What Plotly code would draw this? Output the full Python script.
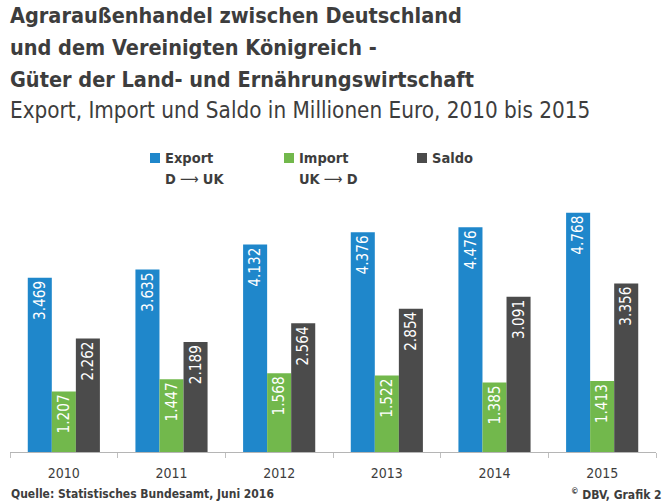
import plotly.graph_objects as go

years = ["2010", "2011", "2012", "2013", "2014", "2015"]
export_vals = [3469, 3635, 4132, 4376, 4476, 4768]
import_vals = [1207, 1447, 1568, 1522, 1385, 1413]
saldo_vals = [2262, 2189, 2564, 2854, 3091, 3356]

series_names = ["Export", "Import", "Saldo"]
series_sub = [("D", "UK"), ("UK", "D"), None]
colors = ["#1f87cb", "#72b84c", "#4b4b4b"]

W, H = 668, 501
# plot area in page pixels: x 10..656, y 201..452
PL, PR, PT, PB = 10, 656, 201, 452
FONT = "DejaVu Sans Condensed"
TXT = "#3d3d3d"


def fmt(v):
    return f"{v:,}".replace(",", ".")


fig = go.Figure()
for name, vals, col in zip(series_names, [export_vals, import_vals, saldo_vals], colors):
    fig.add_trace(go.Bar(
        x=years, y=vals, name=name, marker=dict(color=col, line=dict(width=0)),
        text=[fmt(v) for v in vals], textposition="inside", insidetextanchor="end",
        textangle=-90, textfont=dict(color="white", size=16, family=FONT),
        showlegend=False, cliponaxis=False,
    ))

pw = PR - PL
ph = PB - PT


def px(x):
    return (x - PL) / pw


def py(y):
    return (PB - y) / ph


annotations = []
titles = [
    ("<b>Agraraußenhandel zwischen Deutschland</b>", 15, 21.5),
    ("<b>und dem Vereinigten Königreich -</b>", 47, 21.5),
    ("<b>Güter der Land- und Ernährungswirtschaft</b>", 79, 21.5),
    ("Export, Import und Saldo in Millionen Euro, 2010 bis 2015", 110, 22.3),
]
for t, y, s in titles:
    annotations.append(dict(text=t, x=px(8), y=py(y), xref="paper", yref="paper",
                            xanchor="left", yanchor="middle", showarrow=False,
                            font=dict(size=s, color=TXT, family=FONT)))

shapes = []
leg_x = [150, 284, 417]
for i, (name, sub, col) in enumerate(zip(series_names, series_sub, colors)):
    x0 = leg_x[i]
    shapes.append(dict(type="rect", xref="paper", yref="paper",
                       x0=px(x0), x1=px(x0 + 10), y0=py(163), y1=py(153),
                       fillcolor=col, line=dict(width=0)))
    annotations.append(dict(text=f"<b>{name}</b>", x=px(x0 + 13), y=py(157.5), xref="paper", yref="paper",
                            xanchor="left", yanchor="middle", showarrow=False,
                            font=dict(size=14.5, color=TXT, family=FONT)))
    if sub:
        annotations.append(dict(text=f"<b>{sub[0]}</b> \u27f6 <b>{sub[1]}</b>", x=px(x0 + 13), y=py(179),
                                xref="paper", yref="paper",
                                xanchor="left", yanchor="middle", showarrow=False,
                                font=dict(size=14.5, color=TXT, family=FONT)))

annotations.append(dict(text="<b>Quelle: Statistisches Bundesamt, Juni 2016</b>", x=px(9), y=py(494),
                        xref="paper", yref="paper", xanchor="left", yanchor="middle", showarrow=False,
                        font=dict(size=12, color=TXT, family=FONT)))
annotations.append(dict(text="<b><sup>©</sup> DBV, Grafik 2</b>", x=px(664), y=py(494),
                        xref="paper", yref="paper", xanchor="right", yanchor="middle", showarrow=False,
                        font=dict(size=12, color=TXT, family=FONT)))

fig.update_layout(
    width=W, height=H,
    margin=dict(l=PL, r=W - PR, t=PT, b=H - PB, pad=0),
    paper_bgcolor="white", plot_bgcolor="white",
    barmode="group", bargap=0.33, bargroupgap=0,
    showlegend=False,
    font=dict(family=FONT, color=TXT),
    xaxis=dict(type="category", showline=True, linecolor="#b5b5b5", linewidth=1,
               ticks="outside", tickson="boundaries", ticklen=5, tickcolor="#c0c0c0",
               ticklabelstandoff=8,
               tickfont=dict(size=14, color=TXT, family=FONT), showgrid=False, zeroline=False),
    yaxis=dict(range=[0, 5000], visible=False, showgrid=False, zeroline=False),
    annotations=annotations, shapes=shapes,
)

fig.write_html("out.html", config={"displayModeBar": False},
               post_script="document.body.style.margin='0';")
